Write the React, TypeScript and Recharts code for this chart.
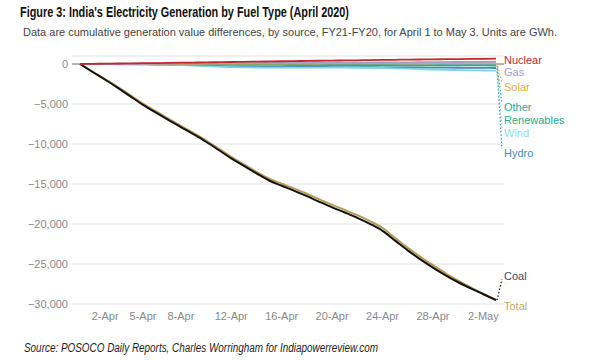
import React from 'react';
import { LineChart, Line, XAxis, YAxis, CartesianGrid, ReferenceLine } from 'recharts';

const dates = [
  '31-Mar', '1-Apr', '2-Apr', '3-Apr', '4-Apr', '5-Apr', '6-Apr', '7-Apr', '8-Apr', '9-Apr',
  '10-Apr', '11-Apr', '12-Apr', '13-Apr', '14-Apr', '15-Apr', '16-Apr', '17-Apr', '18-Apr', '19-Apr',
  '20-Apr', '21-Apr', '22-Apr', '23-Apr', '24-Apr', '25-Apr', '26-Apr', '27-Apr', '28-Apr', '29-Apr',
  '30-Apr', '1-May', '2-May', '3-May',
];

const coal = [
  0, -1000, -1970, -2980, -4050, -5100, -6050, -6980, -7880, -8780,
  -9720, -10750, -11800, -12740, -13680, -14560, -15220, -15850, -16520, -17230,
  -17920, -18560, -19230, -19980, -20850, -22080, -23300, -24420, -25450, -26420,
  -27280, -28050, -28780, -29520,
];
const total = [
  0, -960, -1900, -2880, -3920, -4950, -5900, -6830, -7730, -8620,
  -9560, -10580, -11620, -12560, -13480, -14340, -14960, -15570, -16220, -16920,
  -17610, -18240, -18900, -19640, -20500, -21740, -22970, -24090, -25150, -26160,
  -27070, -27930, -28720, -29500,
];
const nuclear = [
  0, 20, 40, 60, 80, 100, 120, 140, 160, 180, 200, 225, 250, 270, 295, 320, 345,
  365, 385, 405, 425, 445, 465, 485, 505, 525, 545, 565, 585, 600, 615, 630, 645, 660,
];
const gas = [
  0, 5, 10, 15, 20, 30, 40, 50, 60, 70, 80, 90, 100, 110, 120, 130, 140,
  150, 155, 160, 165, 170, 175, 180, 190, 200, 210, 220, 230, 240, 250, 260, 270, 280,
];
const solar = [
  0, 5, 10, 10, 15, 20, 20, 25, 30, 30, 35, 40, 40, 45, 50, 50, 55,
  60, 60, 65, 70, 70, 75, 80, 80, 85, 90, 90, 95, 100, 100, 105, 110, 110,
];
const otherRenewables = [
  0, -5, -10, -15, -20, -25, -30, -40, -50, -60, -70, -80, -90, -100, -110, -115, -120,
  -125, -130, -135, -140, -145, -150, -150, -155, -160, -160, -165, -170, -170, -175, -180, -180, -185,
];
const wind = [
  0, -5, -10, -15, -20, -30, -50, -80, -130, -190, -260, -330, -390, -420, -440, -450, -460,
  -460, -460, -460, -460, -460, -470, -480, -500, -540, -590, -640, -690, -730, -760, -790, -810, -830,
];
const hydro = [
  0, -10, -20, -30, -40, -50, -60, -80, -110, -150, -200, -250, -290, -320, -340, -350, -360,
  -360, -370, -370, -380, -380, -390, -400, -410, -420, -430, -440, -450, -460, -470, -480, -490, -500,
];

const tickLabels = ['2-Apr', '5-Apr', '8-Apr', '12-Apr', '16-Apr', '20-Apr', '24-Apr', '28-Apr', '2-May'];
const yTicks = [0, -5000, -10000, -15000, -20000, -25000, -30000];

const data = dates.map((d, i) => ({
  day: i,
  date: d,
  coal: coal[i],
  total: total[i],
  nuclear: nuclear[i],
  gas: gas[i],
  solar: solar[i],
  other: otherRenewables[i],
  wind: wind[i],
  hydro: hydro[i],
}));

const FONT = '"Liberation Sans", Arial, sans-serif';

// drawing order: first is drawn underneath
const series = [
  { key: 'total', name: ['Total'], color: '#b59a58', labelColor: '#c2a66a', dy: 6, leader: false },
  { key: 'coal', name: ['Coal'], color: '#121212', labelColor: '#3d4663', dy: -24, leader: true },
  { key: 'hydro', name: ['Hydro'], color: '#3b8cb8', labelColor: '#3b8cb8', dy: 85, leader: true },
  { key: 'wind', name: ['Wind'], color: '#7fd2e8', labelColor: '#8fd9ec', dy: 62, leader: true },
  { key: 'other', name: ['Other', 'Renewables'], color: '#26a98e', labelColor: '#2aa98e', dy: 42, leader: true },
  { key: 'solar', name: ['Solar'], color: '#e8a54a', labelColor: '#e8a54a', dy: 24, leader: true },
  { key: 'gas', name: ['Gas'], color: '#a49bc9', labelColor: '#a49bc9', dy: 10, leader: false },
  { key: 'nuclear', name: ['Nuclear'], color: '#c0282f', labelColor: '#c0282f', dy: 1.5, leader: false },
];

const makeEndLabel = (s: any) => (props: any) => {
  const { x, y, index } = props;
  if (index !== dates.length - 1) return <g />;
  const ty = y + s.dy;
  return (
    <g>
      {s.leader && (
        <line
          x1={x + 1}
          y1={y}
          x2={x + 6}
          y2={s.dy > 0 ? ty - 4 : ty + 3}
          stroke={s.color}
          strokeWidth={1.2}
          strokeDasharray="1.5 2"
        />
      )}
      <text x={x + 8} y={ty} fill={s.labelColor} fontSize={11} fontFamily={FONT} dominantBaseline="central">
        {s.name.map((n: string, i: number) => (
          <tspan key={n} x={x + 8} dy={i === 0 ? 0 : 12.5}>
            {n}
          </tspan>
        ))}
      </text>
    </g>
  );
};

const fmtY = (v: number) => (v === 0 ? '0' : '\u2212' + Math.abs(v).toLocaleString('en-US'));

export default function App() {
  return (
    <div style={{ position: 'relative', width: 600, height: 360, background: '#fff' }}>
      <style>{'body{margin:0}'}</style>
      <svg width={600} height={360} style={{ position: 'absolute', left: 0, top: 0 }}>
        <text
          x={20}
          y={17}
          fontSize={14}
          fontWeight="bold"
          fontFamily={FONT}
          fill="#111"
          textLength={329}
          lengthAdjust="spacingAndGlyphs"
        >
          Figure 3: India's Electricity Generation by Fuel Type (April 2020)
        </text>
        <text x={23} y={36} fontSize={11} fontFamily={FONT} fill="#444" textLength={534} lengthAdjust="spacingAndGlyphs">
          Data are cumulative generation value differences, by source, FY21-FY20, for April 1 to May 3. Units are GWh.
        </text>
        <text
          x={24}
          y={352}
          fontSize={12}
          fontStyle="italic"
          fontFamily={FONT}
          fill="#222"
          textLength={354}
          lengthAdjust="spacingAndGlyphs"
        >
          Source: POSOCO Daily Reports, Charles Worringham for Indiapowerreview.com
        </text>
      </svg>
      <div style={{ position: 'absolute', left: 0, top: 0 }}>
        <LineChart width={600} height={360} data={data} margin={{ top: 56, right: 96, bottom: 26, left: 0 }}>
          <CartesianGrid vertical={false} stroke="#e2e2e2" strokeWidth={1.2} />
          <XAxis
            dataKey="day"
            type="number"
            domain={[0, dates.length - 1]}
            ticks={tickLabels.map((t) => dates.indexOf(t))}
            tickFormatter={(i: number) => dates[i]}
            axisLine={false}
            tickLine={false}
            height={30}
            padding={{ left: 8, right: 8 }}
            tick={{ fill: '#888', fontSize: 11, fontFamily: FONT }}
          />
          <YAxis
            domain={[-30000, 1000]}
            ticks={yTicks}
            tickFormatter={fmtY}
            axisLine={false}
            tickLine={false}
            width={72}
            tickSize={4}
            tickMargin={0}
            tick={{ fill: '#888', fontSize: 11, fontFamily: FONT }}
          />
          <ReferenceLine y={0} stroke="#777" strokeWidth={1.2} />
          {series.map((s) => (
            <Line
              key={s.key}
              dataKey={s.key}
              type="monotone"
              stroke={s.color}
              strokeWidth={s.key === 'coal' || s.key === 'total' ? 2 : 1.8}
              dot={false}
              isAnimationActive={false}
              label={makeEndLabel(s)}
            />
          ))}
        </LineChart>
      </div>
    </div>
  );
}
